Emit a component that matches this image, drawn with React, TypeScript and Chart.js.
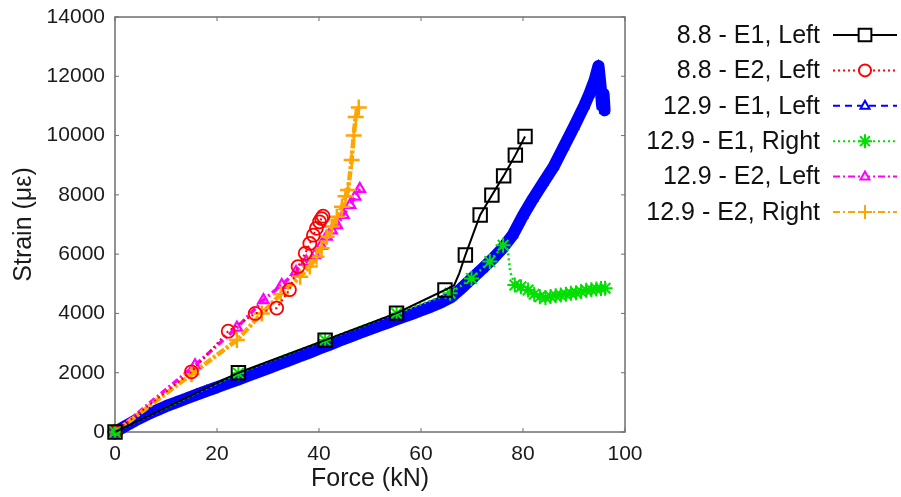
import React, { useEffect, useRef } from "react";
import { Chart, registerables } from "chart.js";

Chart.register(...registerables);

const FONT = '"Liberation Sans", Arial, Helvetica, sans-serif';

// ---- Data (Force kN -> Strain µε) ----
const xTicks = [0, 20, 40, 60, 80, 100];
const yTicks = [0, 2000, 4000, 6000, 8000, 10000, 12000, 14000];

const labels = [
  "8.8 - E1, Left",
  "8.8 - E2, Left",
  "12.9 - E1, Left",
  "12.9 - E1, Right",
  "12.9 - E2, Left",
  "12.9 - E2, Right",
];

// 8.8 - E1, Left
const blackX = [0, 24.2, 41.2, 55.2, 64.7, 66.5, 67.5, 68.7, 71.6, 73.9, 76.2, 78.5, 80.4];
const blackY = [0, 2000, 3100, 4010, 4790, 4950, 5350, 5970, 7320, 7990, 8640, 9340, 9970];
const blackMarks = [1, 1, 1, 1, 1, 0, 0, 1, 1, 1, 1, 1, 1];

// 8.8 - E2, Left
const redX = [0, 15.0, 22.2, 27.5, 31.7, 34.2, 35.9, 37.3, 38.2, 38.9, 39.5, 40.1, 40.5, 40.8];
const redY = [0, 2030, 3400, 4000, 4180, 4800, 5580, 6030, 6360, 6640, 6870, 7090, 7200, 7280];

// 12.9 - E1, Left
const blueX = [0, 2, 4, 6, 8, 10, 12, 14, 16, 18, 20, 22, 24, 26, 28, 30, 32, 34, 36, 38, 40, 42, 44, 46, 48, 50, 52, 54, 56, 58, 60, 62, 64, 66, 68, 70, 72, 74, 76, 78, 80, 82, 84, 86, 88, 90, 92, 93, 94, 94.8, 95.2, 95.5, 95.8, 96.0];
const blueY = [0, 200, 390, 560, 720, 870, 1000, 1130, 1260, 1390, 1510, 1640, 1760, 1890, 2020, 2150, 2280, 2410, 2540, 2670, 2810, 2940, 3080, 3210, 3340, 3470, 3600, 3720, 3850, 3970, 4100, 4230, 4380, 4560, 4860, 5180, 5500, 5830, 6200, 6650, 7300, 7880, 8420, 8950, 9620, 10300, 11000, 11400, 11850, 12350, 11700, 11000, 11400, 10850];

// 12.9 - E1, Right
const greenX = [0, 24.2, 41.2, 55.2, 65.7, 69.9, 73.5, 76.1, 77.0, 77.5, 78.4, 79.6, 81.0, 82.2, 83.3, 84.4, 85.4, 86.4, 87.4, 88.4, 89.4, 90.4, 91.4, 92.4, 93.4, 94.4, 95.3, 96.1];
const greenY = [0, 1980, 3100, 4000, 4680, 5180, 5750, 6300, 6150, 5400, 4960, 4900, 4790, 4650, 4560, 4540, 4570, 4600, 4620, 4650, 4680, 4700, 4740, 4780, 4800, 4820, 4840, 4850];
const greenMarks = [1, 1, 1, 1, 1, 1, 1, 1, 0, 0, 1, 1, 1, 1, 1, 1, 1, 1, 1, 1, 1, 1, 1, 1, 1, 1, 1, 1];

// 12.9 - E2, Left
const magentaX = [0, 15.7, 23.9, 29.1, 32.7, 35.5, 37.5, 39.2, 40.4, 41.5, 42.5, 43.5, 44.8, 46.1, 47.1, 48.0];
const magentaY = [0, 2250, 3520, 4450, 4960, 5400, 5750, 5970, 6280, 6590, 6800, 6980, 7320, 7660, 7940, 8200];

// 12.9 - E2, Right
const orangeX = [0, 15.0, 23.9, 28.8, 32.5, 36.3, 38.2, 39.5, 40.5, 41.5, 42.5, 43.5, 44.5, 45.2, 45.7, 46.4, 46.8, 47.2, 47.8];
const orangeY = [0, 1950, 3100, 4000, 4650, 5240, 5580, 5910, 6200, 6590, 6930, 7260, 7600, 7950, 8160, 9180, 10000, 10630, 10950];

const toPts = (xs: number[], ys: number[]) => xs.map((x, i) => ({ x, y: ys[i] }));

type Marker = "rect" | "circle" | "triangle" | "star" | "cross";

const STYLES: { color: string; dash: number[]; marker: Marker }[] = [
  { color: "#000000", dash: [], marker: "rect" },
  { color: "#ff0000", dash: [2, 3], marker: "circle" },
  { color: "#0000ff", dash: [7, 5], marker: "triangle" },
  { color: "#00e000", dash: [2, 3], marker: "star" },
  { color: "#ff00ff", dash: [7, 3, 2, 3], marker: "triangle" },
  { color: "#ffa500", dash: [7, 3, 2, 3], marker: "cross" },
];

function drawMarker(ctx: CanvasRenderingContext2D, m: Marker, x: number, y: number, r: number, color: string) {
  ctx.save();
  ctx.setLineDash([]);
  ctx.strokeStyle = color;
  ctx.fillStyle = "#ffffff";
  ctx.lineWidth = 2;
  ctx.beginPath();
  if (m === "rect") {
    const s = r * Math.SQRT1_2;
    ctx.rect(x - s, y - s, 2 * s, 2 * s);
    ctx.fill();
  } else if (m === "circle") {
    ctx.arc(x, y, r, 0, Math.PI * 2);
    ctx.fill();
  } else if (m === "triangle") {
    ctx.moveTo(x, y - r);
    ctx.lineTo(x + r * 0.9, y + r * 0.6);
    ctx.lineTo(x - r * 0.9, y + r * 0.6);
    ctx.closePath();
    ctx.fill();
  } else if (m === "star") {
    for (let k = 0; k < 4; k++) {
      const a = (k * Math.PI) / 4;
      ctx.moveTo(x - r * Math.cos(a), y - r * Math.sin(a));
      ctx.lineTo(x + r * Math.cos(a), y + r * Math.sin(a));
    }
  } else if (m === "cross") {
    ctx.moveTo(x - r, y);
    ctx.lineTo(x + r, y);
    ctx.moveTo(x, y - r);
    ctx.lineTo(x, y + r);
  }
  ctx.stroke();
  ctx.restore();
}

const legendPlugin = {
  id: "customLegend",
  afterDraw(chart: any) {
    const ctx: CanvasRenderingContext2D = chart.ctx;
    const area = chart.chartArea;
    const textRight = area.right + 195;
    const lineL = area.right + 208;
    const lineR = area.right + 272;
    const sizes = [9, 6, 5, 7, 5, 7];
    ctx.save();
    ctx.font = `25px ${FONT}`;
    ctx.textAlign = "right";
    ctx.textBaseline = "middle";
    labels.forEach((lab, i) => {
      const y = 35 + i * 35.4;
      const st = STYLES[i];
      ctx.fillStyle = "#111111";
      ctx.fillText(lab, textRight, y + 1);
      ctx.strokeStyle = st.color;
      ctx.lineWidth = 2;
      ctx.setLineDash(st.dash);
      ctx.beginPath();
      ctx.moveTo(lineL, y);
      ctx.lineTo(lineR, y);
      ctx.stroke();
      ctx.setLineDash([]);
      drawMarker(ctx, st.marker, (lineL + lineR) / 2, y, sizes[i], st.color);
    });
    ctx.restore();
  },
};

const framePlugin = {
  id: "frame",
  beforeDatasetsDraw(chart: any) {
    const ctx: CanvasRenderingContext2D = chart.ctx;
    const { left, right, top, bottom } = chart.chartArea;
    const xs = chart.scales.x;
    const ys = chart.scales.y;
    ctx.save();
    ctx.strokeStyle = "#6e6e6e";
    ctx.lineWidth = 1.5;
    ctx.strokeRect(left, top, right - left, bottom - top);
    ctx.lineWidth = 1;
    ctx.beginPath();
    const tl = 4;
    xTicks.forEach((v) => {
      const px = xs.getPixelForValue(v);
      ctx.moveTo(px, bottom);
      ctx.lineTo(px, bottom - tl);
      ctx.moveTo(px, top);
      ctx.lineTo(px, top + tl);
    });
    yTicks.forEach((v) => {
      const py = ys.getPixelForValue(v);
      ctx.moveTo(left, py);
      ctx.lineTo(left + tl, py);
      ctx.moveTo(right, py);
      ctx.lineTo(right - tl, py);
    });
    ctx.stroke();
    ctx.restore();
  },
};

export default function App() {
  const ref = useRef<HTMLCanvasElement | null>(null);

  useEffect(() => {
    document.body.style.margin = "0";
    document.body.style.overflow = "hidden";
    const canvas = ref.current;
    if (!canvas) return;

    const markFn = (marks: number[] | null, r: number) => (c: any) =>
      marks && !marks[c.dataIndex] ? 0 : r;

    const chart = new Chart(canvas, {
      type: "scatter",
      data: {
        datasets: [
          {
            label: labels[0],
            data: toPts(blackX, blackY),
            showLine: true,
            borderColor: "#000000",
            borderWidth: 2,
            pointStyle: "rect",
            pointRadius: markFn(blackMarks, 9.5),
            pointBorderColor: "#000000",
            pointBackgroundColor: "rgba(0,0,0,0)",
            pointBorderWidth: 2,
            order: 0,
            clip: false,
          },
          {
            label: labels[1],
            data: toPts(redX, redY),
            showLine: true,
            borderColor: "#ff0000",
            borderWidth: 2,
            borderDash: [2, 3],
            pointStyle: "circle",
            pointRadius: 6.5,
            pointBorderColor: "#ff0000",
            pointBackgroundColor: "rgba(0,0,0,0)",
            pointBorderWidth: 1.8,
            order: 2,
            clip: false,
          },
          {
            label: labels[2],
            data: toPts(blueX, blueY),
            showLine: true,
            borderColor: "#0000ff",
            borderWidth: 12,
            borderCapStyle: "round",
            borderJoinStyle: "round",
            pointStyle: "triangle",
            pointRadius: 5,
            pointBorderColor: "#0000ff",
            pointBackgroundColor: "rgba(0,0,0,0)",
            pointBorderWidth: 1.8,
            order: 5,
            clip: false,
          },
          {
            label: labels[3],
            data: toPts(greenX, greenY),
            showLine: true,
            borderColor: "#00e000",
            borderWidth: 2.5,
            borderDash: [2, 3],
            pointStyle: "star",
            pointRadius: markFn(greenMarks, 7.5),
            pointBorderColor: "#00e000",
            pointBackgroundColor: "#00e000",
            pointBorderWidth: 2,
            order: 1,
            clip: false,
          },
          {
            label: labels[4],
            data: toPts(magentaX, magentaY),
            showLine: true,
            borderColor: "#ff00ff",
            borderWidth: 3.5,
            borderDash: [7, 3, 2, 3],
            pointStyle: "triangle",
            pointRadius: 6,
            pointBorderColor: "#ff00ff",
            pointBackgroundColor: "rgba(0,0,0,0)",
            pointBorderWidth: 2.2,
            order: 4,
            clip: false,
          },
          {
            label: labels[5],
            data: toPts(orangeX, orangeY),
            showLine: true,
            borderColor: "#ffa500",
            borderWidth: 4.5,
            borderDash: [9, 2, 3, 2],
            pointStyle: "cross",
            pointRadius: 8,
            pointBorderColor: "#ffa500",
            pointBorderWidth: 2.5,
            order: 3,
            clip: false,
          },
        ],
      },
      options: {
        responsive: false,
        animation: false,
        events: [],
        layout: { padding: { top: 17, right: 276, bottom: 0, left: 0 } },
        plugins: {
          legend: { display: false },
          tooltip: { enabled: false },
        },
        scales: {
          x: {
            type: "linear",
            min: 0,
            max: 100,
            afterFit: (s: any) => {
              s.height = 65;
            },
            afterBuildTicks: (s: any) => {
              s.ticks = xTicks.map((v) => ({ value: v }));
            },
            grid: { display: false },
            border: { display: false },
            ticks: {
              padding: 2,
              color: "#1a1a1a",
              font: { family: FONT, size: 21 },
              maxRotation: 0,
              callback: (v: any) => String(v),
            },
            title: {
              display: true,
              text: "Force (kN)",
              color: "#1a1a1a",
              font: { family: FONT, size: 25 },
              padding: { top: 0, bottom: 3 },
            },
          },
          y: {
            type: "linear",
            min: 0,
            max: 14000,
            afterFit: (s: any) => {
              s.width = 115;
            },
            afterBuildTicks: (s: any) => {
              s.ticks = yTicks.map((v) => ({ value: v }));
            },
            grid: { display: false },
            border: { display: false },
            ticks: {
              padding: 2,
              color: "#1a1a1a",
              font: { family: FONT, size: 21 },
              callback: (v: any) => String(v),
            },
            title: {
              display: true,
              text: "Strain (με)",
              color: "#1a1a1a",
              font: { family: FONT, size: 25 },
              padding: { top: 9, bottom: 0 },
            },
          },
        },
      },
      plugins: [framePlugin, legendPlugin],
    } as any);

    return () => chart.destroy();
  }, []);

  return (
    <div style={{ width: 901, height: 497, background: "#ffffff" }}>
      <canvas ref={ref} width={901} height={497} />
    </div>
  );
}
